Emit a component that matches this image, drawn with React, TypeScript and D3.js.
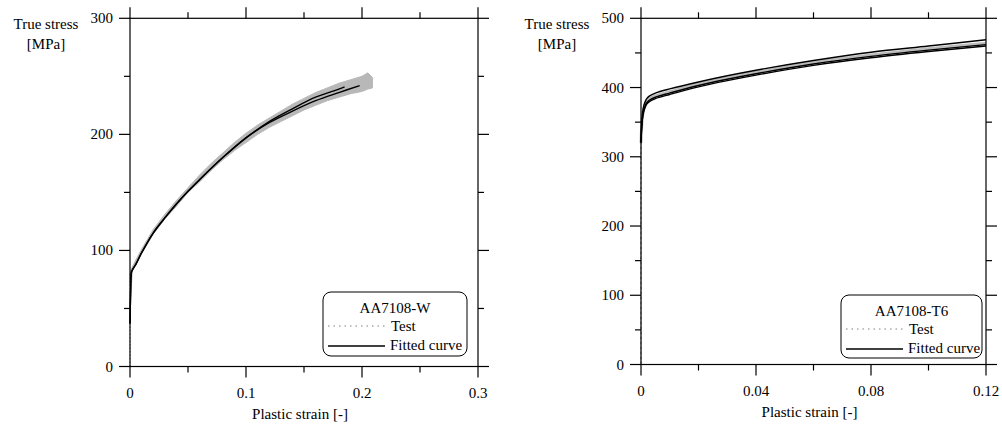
import React from "react";
import * as d3 from "d3";

// ---------- Data: AA7108-W ----------
const wStrainFit1 = [0, 0.0005, 0.001, 0.0015, 0.005, 0.01, 0.02, 0.03, 0.04, 0.05, 0.06, 0.08, 0.1, 0.12, 0.14, 0.16, 0.18, 0.185];
const wStressFit1 = [37, 62, 79, 82, 88, 98, 115, 128, 140, 151, 161, 180, 197, 211, 222, 232, 239, 241];
const wStrainFit2 = [0, 0.0005, 0.001, 0.0015, 0.005, 0.01, 0.02, 0.03, 0.04, 0.05, 0.06, 0.08, 0.1, 0.12, 0.14, 0.16, 0.18, 0.198];
const wStressFit2 = [37, 62, 79, 82, 88, 98, 115, 128, 140, 151, 161, 180, 197, 210, 220, 229, 236, 242];
const wTestStrain = [0.0005, 0.002, 0.01, 0.02, 0.03, 0.04, 0.05, 0.06, 0.07, 0.08, 0.09, 0.1, 0.11, 0.12, 0.13, 0.14, 0.15, 0.16, 0.17, 0.18, 0.19, 0.2, 0.205, 0.209];
const wTestLow = [60, 82, 97, 114, 127, 138, 150, 159, 169, 178, 186, 193, 200, 206, 211, 216, 221, 225, 229, 232, 235, 237, 239, 240];
const wTestHigh = [82, 86, 101, 118, 131, 143, 154, 165, 175, 184, 193, 201, 208, 214, 220, 226, 231, 236, 240, 244, 247, 250, 253, 249];

// ---------- Data: AA7108-T6 ----------
const tStrain = [0, 0.0002, 0.0005, 0.001, 0.0015, 0.002, 0.003, 0.005, 0.01, 0.02, 0.03, 0.04, 0.06, 0.08, 0.1, 0.12];
const tStressUpper = [322, 345, 362, 374, 380, 384, 388, 392, 398, 408, 417, 425, 439, 451, 460, 469];
const tStressLowA = [322, 340, 356, 368, 374, 378, 382, 386, 392, 403, 412, 420, 434, 445, 454, 462];
const tStressLowB = [320, 338, 354, 366, 372, 376, 380, 384, 390, 401, 410, 418, 432, 443, 452, 460];
const tStressTest = [320, 341, 358, 370, 376, 380, 384, 388, 394, 405, 414, 422, 436, 447, 456, 464];

// ---------- Ticks ----------
const wXMajor = [0, 0.1, 0.2, 0.3];
const wXMinor = [0.05, 0.15, 0.25];
const wYMajor = [0, 100, 200, 300];
const wYMinor = [50, 150, 250];
const tXMajor = [0, 0.04, 0.08, 0.12];
const tXMinor = [0.02, 0.06, 0.1];
const tYMajor = [0, 100, 200, 300, 400, 500];
const tYMinor = [50, 150, 250, 350, 450];

const FONT = "'Liberation Serif', 'Times New Roman', Times, serif";
const fontStyle = { fontFamily: FONT };

type Panel = {
  x0: number; x1: number; y0: number; y1: number;
  xDomain: [number, number]; yDomain: [number, number];
  xMajor: number[]; xMinor: number[]; yMajor: number[]; yMinor: number[];
  xFmt: (v: number) => string;
  ylabX: number;
};

function Frame({ p, children }: { p: Panel; children: (x: d3.ScaleLinear<number, number>, y: d3.ScaleLinear<number, number>) => React.ReactNode }) {
  const x = d3.scaleLinear().domain(p.xDomain).range([p.x0, p.x1]);
  const y = d3.scaleLinear().domain(p.yDomain).range([p.y0, p.y1]);
  const M = 11, m = 6;
  const lines: React.ReactNode[] = [];
  p.xMajor.forEach((v, i) => {
    lines.push(<line key={"xb" + i} x1={x(v)} x2={x(v)} y1={p.y0} y2={p.y0 + M} />);
    lines.push(<line key={"xt" + i} x1={x(v)} x2={x(v)} y1={p.y1} y2={p.y1 - M} />);
  });
  p.xMinor.forEach((v, i) => {
    lines.push(<line key={"xbm" + i} x1={x(v)} x2={x(v)} y1={p.y0} y2={p.y0 + m} />);
    lines.push(<line key={"xtm" + i} x1={x(v)} x2={x(v)} y1={p.y1} y2={p.y1 - m} />);
  });
  p.yMajor.forEach((v, i) => {
    lines.push(<line key={"yl" + i} x1={p.x0} x2={p.x0 - M} y1={y(v)} y2={y(v)} />);
    lines.push(<line key={"yr" + i} x1={p.x1} x2={p.x1 + M} y1={y(v)} y2={y(v)} />);
  });
  p.yMinor.forEach((v, i) => {
    lines.push(<line key={"ylm" + i} x1={p.x0} x2={p.x0 - m} y1={y(v)} y2={y(v)} />);
    lines.push(<line key={"yrm" + i} x1={p.x1} x2={p.x1 + m} y1={y(v)} y2={y(v)} />);
  });
  return (
    <g>
      {children(x, y)}
      <g stroke="#000" strokeWidth={1.2} fill="none">
        <rect x={p.x0} y={p.y1} width={p.x1 - p.x0} height={p.y0 - p.y1} />
        {lines}
      </g>
      <g style={fontStyle} fontSize={15} fill="#000">
        {p.xMajor.map((v, i) => (
          <text key={"xl" + i} x={x(v)} y={p.y0 + 31} textAnchor="middle">{p.xFmt(v)}</text>
        ))}
        {p.yMajor.map((v, i) => (
          <text key={"ylab" + i} x={p.x0 - 17} y={y(v) + 5} textAnchor="end">{v}</text>
        ))}
        <text x={(p.x0 + p.x1) / 2 - 4} y={p.y0 + 52} textAnchor="middle">Plastic strain [-]</text>
        <text x={p.ylabX} y={29} textAnchor="middle">True stress</text>
        <text x={p.ylabX} y={49} textAnchor="middle">[MPa]</text>
      </g>
    </g>
  );
}

function Legend({ x, y, w, h, title }: { x: number; y: number; w: number; h: number; title: string }) {
  return (
    <g style={fontStyle} fontSize={15}>
      <rect x={x} y={y} width={w} height={h} rx={8} ry={8} fill="#fff" stroke="#000" strokeWidth={1} />
      <text x={x + w / 2} y={y + 21} textAnchor="middle">{title}</text>
      <line x1={x + 5} x2={x + 62} y1={y + 34} y2={y + 34} stroke="#aaa" strokeWidth={1.3} strokeDasharray="1.5 4" />
      <text x={x + 68} y={y + 39}>Test</text>
      <line x1={x + 5} x2={x + 62} y1={y + 54} y2={y + 54} stroke="#000" strokeWidth={1.3} />
      <text x={x + 67} y={y + 58}>Fitted curve</text>
    </g>
  );
}

export default function App() {
  const left: Panel = {
    x0: 130, x1: 478, y0: 366.5, y1: 18.3,
    xDomain: [0, 0.3], yDomain: [0, 300],
    xMajor: wXMajor, xMinor: wXMinor, yMajor: wYMajor, yMinor: wYMinor,
    xFmt: (v) => (v === 0 ? "0" : String(+v.toFixed(2))),
    ylabX: 46,
  };
  const right: Panel = {
    x0: 641, x1: 986, y0: 364.5, y1: 18.3,
    xDomain: [0, 0.12], yDomain: [0, 500],
    xMajor: tXMajor, xMinor: tXMinor, yMajor: tYMajor, yMinor: tYMinor,
    xFmt: (v) => (v === 0 ? "0" : String(+v.toFixed(2))),
    ylabX: 557,
  };

  return (
    <svg width={1002} height={431} style={{ display: "block", position: "absolute", left: 0, top: 0 }}>
      <rect width={1002} height={431} fill="#fff" />
      <Frame p={left}>
        {(x, y) => {
          const area = d3.area<number>()
            .x((_, i) => x(wTestStrain[i]))
            .y0((_, i) => y(wTestLow[i]))
            .y1((_, i) => y(wTestHigh[i]))
            .curve(d3.curveLinear);
          const ln = (xs: number[], ys: number[]) =>
            d3.line<number>().x((_, i) => x(xs[i])).y((_, i) => y(ys[i])).curve(d3.curveCatmullRom.alpha(0.5))(xs) || "";
          return (
            <g>
              <line x1={x(0)} x2={x(0)} y1={y(0)} y2={y(80)} stroke="#aaa" strokeWidth={1.3} strokeDasharray="1.5 2" />
              <path d={area(wTestStrain) || ""} fill="#b8b8b8" stroke="#b8b8b8" strokeWidth={1} />
              <path d={ln(wStrainFit2, wStressFit2)} fill="none" stroke="#000" strokeWidth={1.4} />
              <path d={ln(wStrainFit1, wStressFit1)} fill="none" stroke="#000" strokeWidth={1.4} />
            </g>
          );
        }}
      </Frame>
      <Legend x={323} y={292} w={144} h={64} title="AA7108-W" />
      <Frame p={right}>
        {(x, y) => {
          const ln = (xs: number[], ys: number[]) =>
            d3.line<number>().x((_, i) => x(xs[i])).y((_, i) => y(ys[i])).curve(d3.curveCatmullRom.alpha(0.5))(xs) || "";
          return (
            <g>
              <line x1={x(0)} x2={x(0)} y1={y(0)} y2={y(320)} stroke="#999" strokeWidth={1.3} strokeDasharray="3 2" />
              <path d={ln(tStrain, tStressTest)} fill="none" stroke="#bbb" strokeWidth={3} />
              <path d={ln(tStrain, tStressUpper)} fill="none" stroke="#000" strokeWidth={1.4} />
              <path d={ln(tStrain, tStressLowA)} fill="none" stroke="#000" strokeWidth={1.4} />
              <path d={ln(tStrain, tStressLowB)} fill="none" stroke="#000" strokeWidth={1.4} />
            </g>
          );
        }}
      </Frame>
      <Legend x={841} y={295} w={141} h={63} title="AA7108-T6" />
    </svg>
  );
}
